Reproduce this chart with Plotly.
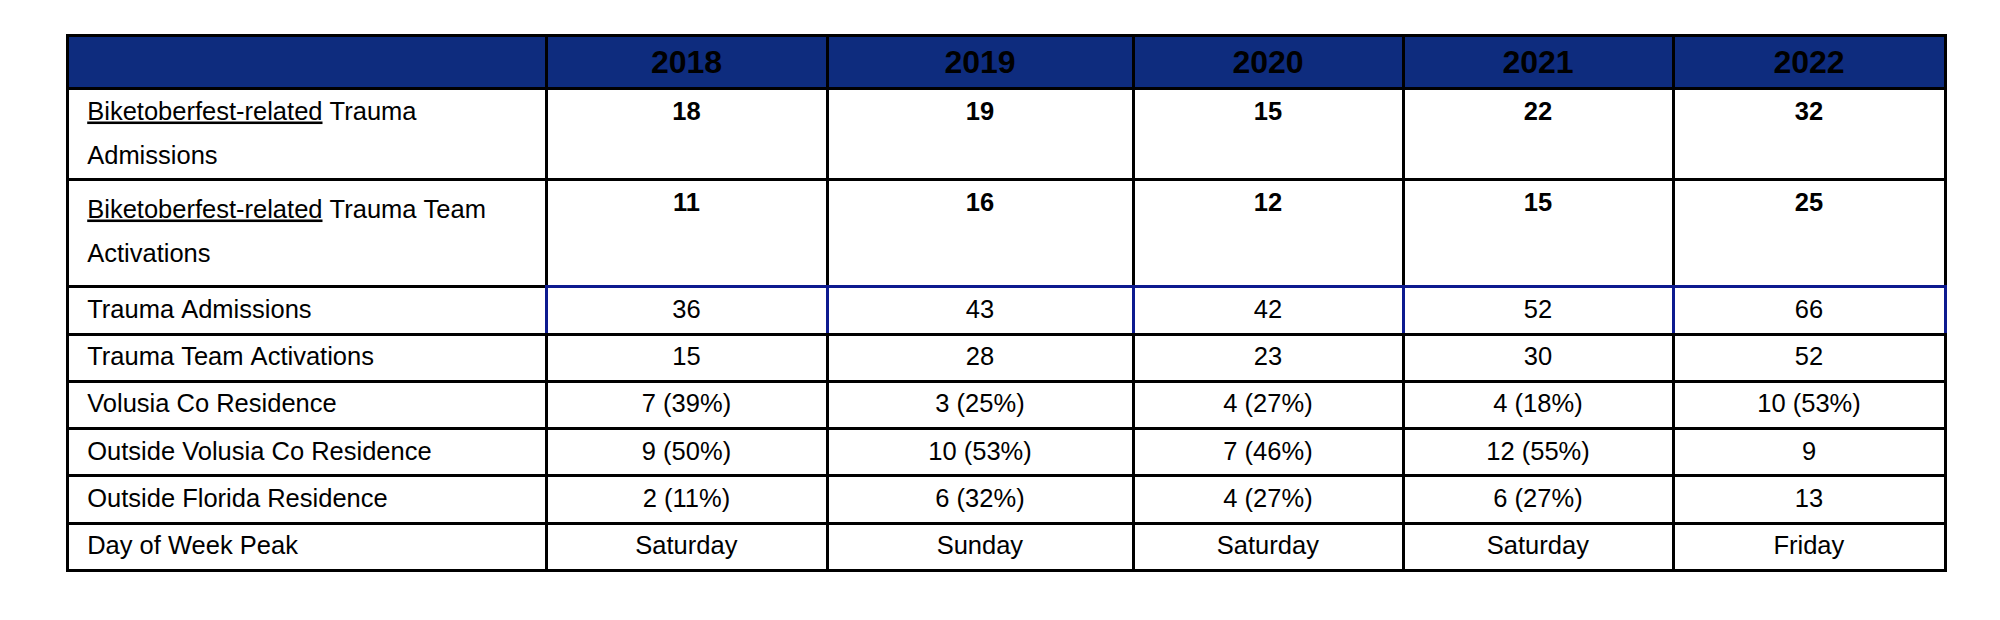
import plotly.graph_objects as go

NAVY = "#0e2c7e"
BLUE_LINE = "#0d1a8f"
FONT = "Liberation Sans, Arial, sans-serif"

years = ["2018", "2019", "2020", "2021", "2022"]

row_labels = [
    "<u>Biketoberfest-related</u> Trauma<br>Admissions",
    "<u>Biketoberfest-related</u> Trauma Team<br>Activations",
    "Trauma Admissions",
    "Trauma Team Activations",
    "Volusia Co Residence",
    "Outside Volusia Co Residence",
    "Outside Florida Residence",
    "Day of Week Peak",
]

bike_admissions = [18, 19, 15, 22, 32]
bike_activations = [11, 16, 12, 15, 25]
trauma_admissions = [36, 43, 42, 52, 66]
trauma_activations = [15, 28, 23, 30, 52]
volusia_res = ["7 (39%)", "3 (25%)", "4 (27%)", "4 (18%)", "10 (53%)"]
outside_volusia_res = ["9 (50%)", "10 (53%)", "7 (46%)", "12 (55%)", "9"]
outside_florida_res = ["2 (11%)", "6 (32%)", "4 (27%)", "6 (27%)", "13"]
day_peak = ["Saturday", "Sunday", "Saturday", "Saturday", "Friday"]

TXT = 25.5      # visible text size
CELL_FS = 34    # cell font size: drives baseline offset and line spacing


def sized(text, lead="", tail=""):
    # trailing <br> keeps the table from word-wrapping (and splitting the tags)
    lines = text.split("<br>")
    out = []
    for ln in lines:
        ln = ln.replace(" ", "\u00a0")
        out.append(f'<span style="font-size:{TXT}px">{lead}{ln}</span>')
    return "<br>".join(out) + tail + "<br>"


def spacer(px):
    # invisible glyph that stretches the row a little taller
    return f'<span style="font-size:{px}px">\u00a0</span>'


year_cols = []
for i in range(len(years)):
    year_cols.append([
        sized(f"<b>{bike_admissions[i]}</b>"),
        sized(f"<b>{bike_activations[i]}</b>"),
        sized(str(trauma_admissions[i])),
        sized(str(trauma_activations[i])),
        sized(volusia_res[i]),
        sized(outside_volusia_res[i]),
        sized(outside_florida_res[i]),
        sized(day_peak[i]),
    ])

lead = "\u00a0\u2009"
label_col = [sized(lab, lead=lead) for lab in row_labels]
label_col[0] = sized(row_labels[0], lead=lead, tail=spacer(38))
label_col[1] = sized(row_labels[1], lead=lead, tail=spacer(82))

n_rows = len(row_labels)
line_colors = [["black"] * n_rows]
for _ in years:
    col = ["black"] * n_rows
    col[2] = BLUE_LINE
    line_colors.append(col)

fig = go.Figure(go.Table(
    domain=dict(x=[59 / 2000, 1937 / 2000], y=[0, 1 - 27.5 / 620]),
    columnwidth=[479, 281, 306, 270, 270, 272],
    header=dict(
        values=[""] + [f"<b>{y}</b>" for y in years],
        fill_color=NAVY,
        font=dict(family=FONT, size=32, color="black"),
        align="center",
        height=53,
        line=dict(color="black", width=3),
    ),
    cells=dict(
        values=[label_col] + year_cols,
        fill_color="white",
        font=dict(family=FONT, size=CELL_FS, color="black"),
        align=["left"] + ["center"] * len(years),
        height=47.3,
        line=dict(color=line_colors, width=3),
    ),
))

fig.update_layout(
    width=2000,
    height=620,
    margin=dict(l=0, r=0, t=0, b=0),
    paper_bgcolor="white",
)

fig.write_html("out.html")
